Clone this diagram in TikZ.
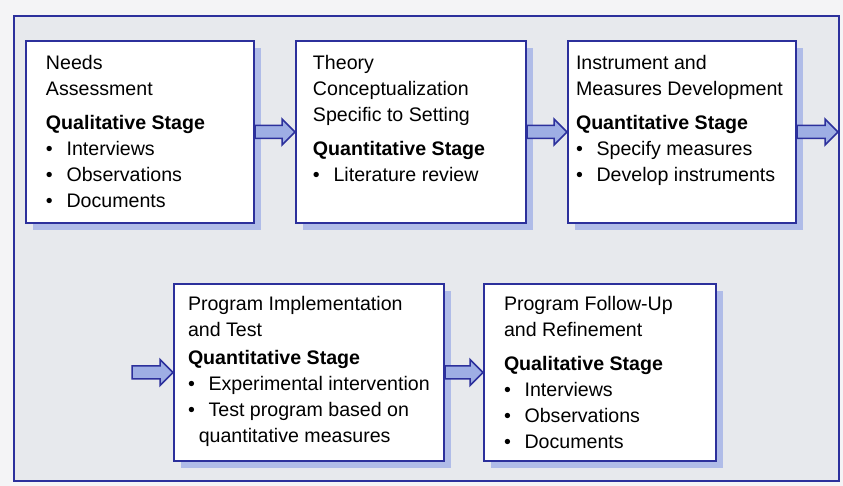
\documentclass[tikz,border=0pt]{standalone}
\usepackage{fontspec}
\setmainfont{Liberation Sans}
\usetikzlibrary{calc,shadows}
\definecolor{lineblue}{RGB}{44,48,156}
\definecolor{shadowblue}{RGB}{176,188,232}
\definecolor{arrowblue}{RGB}{158,174,228}
\definecolor{panelgray}{RGB}{231,233,237}
\definecolor{pagegray}{RGB}{244,244,246}
\newcommand{\bitem}[1]{\makebox[1.05em][l]{\textbullet}#1}
\newcommand{\flowarrow}[2]{%
  \path[flow] let \p1=(#1), \p2=(#2) in
    (\x1,\y1+3.25pt) -- (\x2-6.5pt,\y1+3.25pt) -- (\x2-6.5pt,\y1+6.5pt)
    -- (\x2,\y1) -- (\x2-6.5pt,\y1-6.5pt) -- (\x2-6.5pt,\y1-3.25pt)
    -- (\x1,\y1-3.25pt) -- cycle;}
\tikzset{
  stage/.style={draw=lineblue, line width=1pt, fill=white, anchor=north west,
    inner ysep=7pt, font=\fontsize{9.8}{13}\selectfont,
    drop shadow={shadow xshift=3.5pt, shadow yshift=-3.5pt,
      fill=shadowblue, draw=none, opacity=1}},
  flow/.style={draw=lineblue, line width=0.75pt, fill=arrowblue, line join=miter},
  panel/.style={draw=lineblue, line width=1pt, fill=panelgray},
}
\begin{document}
\begin{tikzpicture}[x=0.5pt, y=-0.5pt]
  \useasboundingbox (0,0) rectangle (843,486);
  \fill[pagegray] (0,0) rectangle (843,486);
  \draw[panel] (14,16) rectangle (839,481);
  \node[stage, inner xsep=10pt] (needs) at (25,40)
    {\parbox[t][77pt][t]{94pt}{\raggedright Needs\\ Assessment\\[4pt]
      \textbf{Qualitative Stage}\\ \bitem{Interviews}\\
      \bitem{Observations}\\ \bitem{Documents}}};
  \node[stage, inner xsep=8.5pt] (theory) at (295,40)
    {\parbox[t][77pt][t]{98pt}{\raggedright Theory\\ Conceptualization\\
      Specific to Setting\\[4pt] \textbf{Quantitative Stage}\\
      \bitem{Literature review}}};
  \node[stage, inner xsep=4pt] (instrument) at (567,40)
    {\parbox[t][77pt][t]{106pt}{\raggedright Instrument and\\
      Measures Development\\[4pt] \textbf{Quantitative Stage}\\
      \bitem{Specify measures}\\ \bitem{Develop instruments}}};
  \node[stage, inner xsep=7pt, inner ysep=6pt] (implementation) at (173,283)
    {\parbox[t][76.5pt][t]{121pt}{\raggedright Program Implementation\\
      and Test\\[1pt] \textbf{Quantitative Stage}\\
      \bitem{\mbox{Experimental intervention}}\\ \bitem{Test program based on}\\
      \hspace*{0.55em}quantitative measures}};
  \node[stage, inner xsep=10pt, inner ysep=6pt] (followup) at (483,283)
    {\parbox[t][76.5pt][t]{96pt}{\raggedright Program Follow-Up\\
      and Refinement\\[4pt] \textbf{Qualitative Stage}\\
      \bitem{Interviews}\\ \bitem{Observations}\\ \bitem{Documents}}};
  \coordinate (exit) at ([xshift=20.5pt]instrument.east);
  \coordinate (entry) at ([xshift=-20.5pt]implementation.west);
  \flowarrow{needs.east}{theory.west}
  \flowarrow{theory.east}{instrument.west}
  \flowarrow{instrument.east}{exit}
  \flowarrow{entry}{implementation.west}
  \flowarrow{implementation.east}{followup.west}
\end{tikzpicture}
\end{document}
